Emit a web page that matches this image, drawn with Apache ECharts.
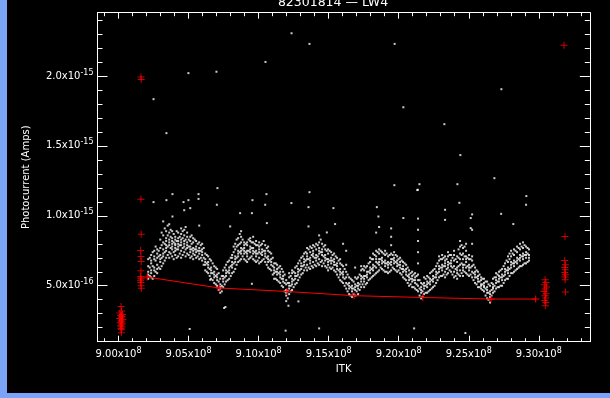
<!DOCTYPE html>
<html>
<head>
<meta charset="utf-8">
<script src="https://cdn.jsdelivr.net/npm/echarts@6/dist/echarts.min.js"></script>
<style>
    html, body { margin: 0; padding: 0; width: 610px; height: 398px; background: #7ba3f7; overflow: hidden; }
    #chart { position: absolute; left: 7px; top: 0; width: 603px; height: 393px; background: #000; }
</style>
</head>
<body>
<div id="chart"></div>
<script>
    // ITK in units of 1e6, photocurrent in units of 1e-16 A
    const X_MIN = 898.5, X_MAX = 933.64;
    const Y_MIN = 1.0, Y_MAX = 24.52;

    // white points, one column per ITK value
    const cloudCols = [
        [902.12,[5.5,6.0,6.4,6.9,5.8]], [902.33,[5.6,6.1,6.6,7.2,5.9,6.8]], [902.55,[5.7,6.3,6.9,7.5,6.1,7.1]],
        [902.76,[5.9,6.5,7.0,7.6,6.2,7.3]], [902.98,[6.2,6.7,7.2,7.7,6.9,8.3]], [903.19,[6.6,7.1,7.6,8.1,8.6,7.3,9.6]],
        [903.40,[7.0,7.5,7.9,8.4,8.9,7.7,8.2]], [903.62,[7.0,7.4,7.9,8.3,8.8,9.4,8.1]], [903.83,[7.1,7.6,8.0,8.4,8.9,7.8,8.2]],
        [904.05,[7.2,7.7,8.0,8.3,7.5,7.9,8.5]], [904.26,[7.1,7.6,8.0,8.4,8.8,7.8,8.2]], [904.47,[7.0,7.5,7.9,8.3,8.7,9.1,8.1]],
        [904.69,[7.4,7.8,8.2,8.6,9.0,8.0,10.4]], [904.90,[7.3,7.7,8.1,8.5,8.8,7.9]], [905.12,[7.0,7.4,7.8,8.2,8.5,7.6]],
        [905.33,[6.9,7.3,7.7,8.1,8.4,7.5]], [905.54,[7.0,7.4,7.8,8.2,7.6]], [905.76,[6.9,7.3,7.7,8.1,7.5,9.3]],
        [905.97,[6.8,7.2,7.6,8.0,7.4]], [906.19,[6.1,6.5,6.9,7.3,6.7]], [906.40,[5.9,6.3,6.7,7.1,6.5]],
        [906.61,[5.5,5.9,6.3,6.8,6.1]], [906.83,[5.2,5.6,6.0,6.4,5.8]], [907.04,[5.0,5.4,5.8,6.2,5.6]],
        [907.26,[4.5,4.8,5.1,5.5,4.9]], [907.47,[4.9,5.3,5.7,6.1,5.5]], [907.68,[5.3,5.7,6.1,6.5,5.9]],
        [907.90,[5.5,5.9,6.3,6.8,6.1]], [908.11,[5.9,6.3,6.7,7.2,6.5,7.0]], [908.33,[6.2,6.7,7.1,7.6,8.0,6.9]],
        [908.54,[6.7,7.1,7.5,7.9,8.4,7.3]], [908.75,[6.9,7.3,7.7,8.1,8.5,7.5,8.9]], [908.97,[6.9,7.3,7.7,8.1,7.5,7.9]],
        [909.18,[6.7,7.1,7.5,7.9,7.3,8.1]], [909.40,[7.0,7.4,7.8,8.2,7.6,8.4]], [909.61,[6.9,7.3,7.7,8.1,8.5,7.5]],
        [909.82,[6.7,7.1,7.5,7.9,8.2,7.3]], [910.04,[6.6,7.0,7.4,7.8,8.1,7.6]], [910.25,[6.8,7.2,7.6,8.0,7.4]],
        [910.47,[6.7,7.1,7.5,7.9,7.3]], [910.68,[6.3,6.7,7.1,7.5,7.8,6.9]], [910.90,[6.1,6.5,6.9,7.3,6.7]],
        [911.11,[5.5,5.9,6.3,6.6,6.1]], [911.32,[5.4,5.8,6.2,6.5,6.0]], [911.54,[5.2,5.6,6.0,6.4,5.8]],
        [911.75,[4.9,5.3,5.7,6.0,5.5]], [911.97,[3.9,4.3,4.7,5.1,4.5,5.4]], [912.18,[4.4,4.8,5.2,5.6,5.0,5.9]],
        [912.39,[4.7,5.1,5.5,5.9,5.3,6.1]], [912.61,[5.1,5.5,5.9,6.3,5.7]], [912.82,[5.4,5.8,6.2,6.6,6.0]],
        [913.04,[5.8,6.2,6.6,7.0,6.4]], [913.25,[6.1,6.5,6.9,7.3,6.7]], [913.46,[6.1,6.5,6.9,7.3,7.7,7.1]],
        [913.68,[6.2,6.6,7.0,7.4,7.8,6.8]], [913.89,[6.3,6.7,7.1,7.5,7.9,7.3]], [914.11,[6.4,6.8,7.2,7.6,8.0,7.0]],
        [914.32,[6.5,6.9,7.3,7.7,8.1,8.6,7.5]], [914.53,[6.4,6.8,7.2,7.6,8.0,7.4]], [914.75,[6.4,6.8,7.2,7.6,7.9,7.0]],
        [914.96,[6.1,6.5,6.9,7.3,7.6,6.7]], [915.18,[6.2,6.6,7.0,7.4,6.8]], [915.39,[6.1,6.5,6.9,7.3,6.7]],
        [915.60,[5.8,6.2,6.6,7.0,6.4]], [915.82,[5.4,5.8,6.2,6.6,6.9,6.0]], [916.03,[5.2,5.6,6.0,6.4,5.8,8.0]],
        [916.25,[4.8,5.2,5.6,6.0,6.5,7.5]], [916.46,[4.4,4.8,5.2,5.6,5.0]], [916.67,[4.2,4.6,5.0,5.4,4.8]],
        [916.89,[4.3,4.7,5.1,5.6,4.9,6.3]], [917.10,[4.4,4.8,5.2,5.6,5.0]], [917.32,[4.9,5.3,5.7,6.1,5.5,6.4]],
        [917.53,[4.9,5.3,5.7,6.1,6.4,5.5]], [917.74,[5.2,5.6,6.0,6.4,5.8]], [917.96,[5.5,5.9,6.3,6.7,7.0,6.1]],
        [918.17,[5.7,6.1,6.5,6.9,7.3,6.3]], [918.39,[5.9,6.3,6.7,7.1,7.5,6.9,8.8]], [918.60,[6.1,6.5,6.9,7.3,7.6,6.7,9.2]],
        [918.81,[6.2,6.6,7.0,7.4,6.8]], [919.03,[6.0,6.4,6.8,7.2,7.5,6.6]], [919.24,[5.9,6.3,6.7,7.1,6.5]],
        [919.46,[6.1,6.5,6.9,7.3,7.9,8.5,9.1,6.7]], [919.67,[6.2,6.6,7.0,7.4,6.8]], [919.89,[6.0,6.4,6.8,7.1,6.6]],
        [920.10,[5.9,6.3,6.7,7.0,6.5]], [920.31,[5.6,6.0,6.4,6.7,6.2]], [920.53,[5.4,5.8,6.2,6.5,6.0]],
        [920.74,[5.0,5.4,5.8,6.1,5.6]], [920.96,[4.9,5.3,5.7,6.0,5.5]], [921.17,[4.8,5.2,5.6,5.9,5.4]],
        [921.38,[4.6,5.0,5.4,5.8,6.6,7.4,8.2,9.0,9.8]], [921.60,[4.1,4.5,4.9,5.2,4.7]], [921.81,[4.4,4.8,5.2,5.6,5.0]],
        [922.03,[4.5,4.9,5.3,5.7,5.1]], [922.24,[4.7,5.1,5.5,5.9,5.3]], [922.45,[4.9,5.3,5.7,6.1,5.5]],
        [922.67,[5.2,5.6,6.0,6.4,5.8]], [922.88,[5.6,6.0,6.4,6.8,7.1,6.2]], [923.10,[5.7,6.1,6.5,6.9,7.2,6.3]],
        [923.31,[5.6,6.0,6.4,6.8,7.1,6.6]], [923.52,[5.9,6.3,6.7,7.1,7.4,6.5]], [923.74,[6.0,6.4,6.8,7.2,6.6]],
        [923.95,[5.6,6.0,6.4,6.8,7.2,7.5]], [924.17,[5.5,5.9,6.3,6.7,7.1,6.1]], [924.38,[5.7,6.1,6.5,6.9,7.3,7.8,8.2]],
        [924.59,[5.7,6.1,6.5,6.9,7.3,7.7,6.3]], [924.81,[5.9,6.3,6.7,7.1,7.5,8.0,6.9]], [925.02,[5.7,6.1,6.5,6.9,7.2,6.3]],
        [925.24,[5.6,6.0,6.4,6.8,7.1,8.0,9.0,10.1]], [925.45,[5.2,5.6,6.0,6.3,5.8]], [925.66,[4.9,5.3,5.7,6.0,5.5]],
        [925.88,[4.8,5.1,5.4,5.6,5.0]], [926.09,[4.6,4.9,5.2,5.5,5.0]], [926.31,[4.1,4.5,4.9,5.3,4.7]],
        [926.52,[3.8,4.2,4.6,5.0,4.4]], [926.73,[4.5,4.8,5.1,5.5,4.9]], [926.95,[4.8,5.2,5.6,5.9,5.4]],
        [927.16,[4.9,5.3,5.7,6.0,5.5]], [927.38,[5.0,5.4,5.8,6.2,5.6]], [927.59,[5.4,5.8,6.2,6.6,6.0]],
        [927.80,[5.5,5.9,6.3,6.7,7.1,6.1]], [928.02,[5.9,6.3,6.7,7.1,7.5,6.5]], [928.23,[6.0,6.4,6.8,7.2,7.6,6.6]],
        [928.45,[6.2,6.6,7.0,7.4,7.8,6.8]], [928.66,[6.4,6.8,7.2,7.6,8.0,7.0]], [928.87,[6.5,6.9,7.3,7.7,8.1,7.1]],
        [929.09,[6.6,7.0,7.4,7.8,7.2]], [929.30,[6.8,7.2,7.6,7.0]]
    ];

    // more white points, read between the columns above
    const cloudColsMid = [
        [902.23,[5.7,6.3,7.0]], [902.44,[5.5,6.4,7.4]], [902.65,[6.0,6.8,7.8]], [902.87,[6.3,7.1,7.5]],
        [903.08,[6.4,7.0,7.9,8.8]], [903.30,[6.8,7.4,8.0,9.1]], [903.51,[7.2,7.8,8.6,9.3]], [903.72,[7.3,7.7,8.5,9.0]],
        [903.94,[6.9,7.4,8.1,8.7]], [904.15,[7.0,7.6,8.2,8.9]], [904.37,[7.3,7.9,8.5]], [904.58,[7.2,7.7,8.4,8.9]],
        [904.79,[7.1,7.6,8.3,9.2]], [905.01,[7.2,7.8,8.3]], [905.22,[7.1,7.6,8.0,8.6]], [905.44,[7.2,7.6,8.3]],
        [905.65,[7.1,7.5,8.0]], [905.87,[7.0,7.5,7.9]], [906.08,[6.5,7.0,7.7]], [906.30,[6.0,6.6,7.2]],
        [906.51,[5.7,6.2,6.9]], [906.72,[5.4,5.9,6.6]], [906.94,[5.1,5.7,6.3]], [907.15,[4.7,5.3,5.9]],
        [907.37,[4.6,5.0,5.7]], [907.58,[5.1,5.6,6.3]], [907.79,[5.4,6.0,6.7]], [908.01,[5.7,6.4,7.0]],
        [908.22,[6.0,6.6,7.4,7.8]], [908.43,[6.5,7.0,7.8,8.3]], [908.65,[6.8,7.4,8.0,8.7]], [908.86,[7.1,7.6,8.3]],
        [909.08,[6.8,7.4,8.0]], [909.29,[6.9,7.5,8.3]], [909.50,[7.1,7.7,8.1]], [909.72,[6.8,7.4,8.0]],
        [909.93,[6.8,7.3,7.9]], [910.15,[6.7,7.3,7.9]], [910.36,[6.9,7.5,8.2]], [910.58,[6.5,7.0,7.7]],
        [910.79,[6.2,6.8,7.4]], [911.01,[5.8,6.4,7.0]], [911.22,[5.5,6.0,6.6]], [911.43,[5.3,5.9,6.3]],
        [911.65,[5.0,5.5,6.2]], [911.86,[4.6,5.2,5.8]], [912.08,[4.1,4.6,5.2]], [912.29,[4.6,5.0,5.7]],
        [912.50,[4.9,5.4,6.0]], [912.72,[5.2,5.7,6.4]], [912.93,[5.6,6.1,6.8]], [913.15,[5.9,6.4,7.1]],
        [913.36,[6.3,6.8,7.4]], [913.57,[6.3,6.9,7.6]], [913.79,[6.4,7.2,7.7]], [914.00,[6.5,7.0,7.8]],
        [914.22,[6.6,7.1,7.9]], [914.43,[6.7,7.4,8.3]], [914.64,[6.6,7.1,7.8]], [914.86,[6.3,6.9,7.5]],
        [915.07,[6.3,6.8,7.5]], [915.28,[6.3,6.8,7.2]], [915.50,[6.0,6.5,7.1]], [915.71,[5.6,6.1,6.8]],
        [915.93,[5.3,5.9,6.5]], [916.14,[5.0,5.5,6.2]], [916.35,[4.6,5.1,5.8]], [916.57,[4.3,4.9,5.5]],
        [916.78,[4.4,4.8,5.3]], [917.00,[4.6,5.0,5.5]], [917.21,[4.7,5.1,5.8]], [917.42,[5.1,5.6,6.2]],
        [917.64,[5.1,5.7,6.3]], [917.85,[5.4,6.0,6.6]], [918.07,[5.6,6.2,6.9]], [918.28,[5.8,6.4,7.2]],
        [918.49,[6.0,6.6,7.4]], [918.71,[6.3,6.9,7.5]], [918.92,[6.1,6.7,7.3]], [919.14,[6.0,6.6,7.3]],
        [919.35,[6.0,6.6,7.2]], [919.57,[6.3,6.9,7.2]], [919.78,[6.1,6.7,7.2]], [919.99,[6.1,6.5,6.9]],
        [920.21,[5.8,6.2,6.8]], [920.42,[5.5,6.1,6.6]], [920.64,[5.2,5.7,6.3]], [920.85,[5.1,5.5,5.9]],
        [921.06,[4.9,5.4,5.8]], [921.28,[4.7,5.1,5.7]], [921.49,[4.3,4.8,5.4]], [921.70,[4.2,4.6,5.1]],
        [921.92,[4.5,5.0,5.5]], [922.13,[4.6,5.2,5.6]], [922.35,[4.8,5.4,6.0]], [922.56,[5.0,5.6,6.2]],
        [922.77,[5.4,5.9,6.6]], [922.99,[5.7,6.3,6.9]], [923.20,[5.8,6.4,7.0]], [923.42,[5.8,6.2,6.9]],
        [923.63,[6.1,6.6,7.2]], [923.84,[5.8,6.3,7.0]], [924.06,[5.7,6.2,6.9]], [924.27,[5.8,6.4,7.0,7.6]],
        [924.49,[5.9,6.6,7.2,7.9]], [924.70,[6.0,6.5,7.1,7.8]], [924.91,[5.8,6.4,7.0]], [925.13,[5.8,6.3,6.9]],
        [925.34,[5.4,5.9,6.5]], [925.56,[5.1,5.6,6.1]], [925.77,[4.9,5.3,5.8]], [925.98,[4.7,5.1,5.5]],
        [926.20,[4.3,4.8,5.3]], [926.41,[4.0,4.5,5.1]], [926.63,[4.3,4.7,5.2]], [926.84,[4.6,5.0,5.6]],
        [927.06,[4.9,5.3,5.8]], [927.27,[5.0,5.6,6.1]], [927.49,[5.2,5.7,6.4]], [927.70,[5.5,6.1,6.8]],
        [927.91,[5.7,6.2,6.9,7.3]], [928.13,[5.9,6.6,7.3]], [928.34,[6.1,6.7,7.5]], [928.56,[6.3,6.9,7.7]],
        [928.77,[6.4,7.1,7.8]], [928.98,[6.6,7.2,7.9]], [929.20,[6.7,7.3,7.7]]
    ];

    // scattered white points away from the main band
    const strayPoints = [
        [902.50,18.34],[903.42,15.91],[920.33,17.76],[927.33,19.05],[923.26,16.55],[924.40,14.34],
        [926.83,12.69],[924.19,12.26],[921.48,12.26],[921.33,11.84],[919.69,12.19],[913.63,11.69],
        [910.56,11.55],[909.56,11.12],[912.34,10.91],[907.06,11.98],[905.71,11.55],[905.71,11.21],
        [903.85,11.55],[902.50,10.98],[903.42,11.12],[904.64,10.98],[904.99,11.12],[929.11,11.41],
        [912.35,23.05],[913.63,22.29],[919.71,22.29],[910.49,21.0],[904.99,20.2],[906.99,20.3],
        [905.08,1.91],[911.93,1.79],[914.32,1.95],[921.10,1.95],[924.76,1.62],[909.52,5.14],
        [907.63,3.48],[912.13,3.57],[912.84,3.88],[907.54,3.41],
        [909.52,10.19],[910.47,10.79],[910.59,9.48],[913.56,10.62],[915.34,10.55],[915.46,9.41],
        [914.87,8.81],[913.56,9.24],[918.44,10.62],[918.55,9.95],[920.33,9.84],[921.36,11.86],
        [923.31,10.43],[923.31,9.71],[924.33,10.93],[929.09,10.79],[927.31,10.14],[928.18,9.41],
        [925.14,9.84],[925.14,9.12],[907.02,10.79],[908.68,10.19],[907.97,9.24],[903.85,9.95],
        [905.12,10.55],[906.54,5.43]
    ];

    // red crosses
    const redStart = [
        [900.18,3.52],[900.22,3.20],[900.10,3.05],[900.28,2.95],[900.15,2.88],[900.25,2.80],[900.20,2.72],
        [900.08,2.65],[900.30,2.58],[900.18,2.50],[900.24,2.42],[900.12,2.35],[900.27,2.28],[900.20,2.20],
        [900.15,2.12],[900.25,2.05],[900.18,1.95],[900.22,1.85],[900.20,1.64]
    ];
    const redSecond = [
        [901.60,19.93],[901.62,19.74],[901.60,11.19],[901.62,8.69],[901.58,7.52],[901.60,7.09],[901.62,6.74],
        [901.60,6.07],[901.58,5.66],[901.62,5.48],[901.60,5.24],[901.60,5.0],[901.63,4.83],[901.57,5.35],[901.60,5.55]
    ];
    const redEnd = [
        [930.45,5.43],[930.50,5.24],[930.40,5.07],[930.55,4.91],[930.45,4.76],[930.38,4.59],[930.52,4.43],
        [930.45,4.29],[930.48,4.12],[930.42,3.95],[930.50,3.81],[930.46,3.57]
    ];
    const redLast = [
        [931.80,22.2],[931.87,8.52],[931.85,6.81],[931.90,6.50],[931.86,6.31],[931.88,6.14],[931.85,5.95],
        [931.90,5.79],[931.87,5.62],[931.88,5.43],[931.90,4.55]
    ];
    const redLine = [
        [902.05,5.62],[907.18,4.84],[912.02,4.59],[916.81,4.29],[921.72,4.16],[926.59,4.05],[929.78,4.05]
    ];

    const cloudPoints = [];
    cloudCols.concat(cloudColsMid).forEach(([x, ys]) => ys.forEach(y => cloudPoints.push([x, y])));

    const PLUS = 'path://M3,0H4V3H7V4H4V7H3V4H0V3H3Z';
    const FONT = 'DejaVu Sans';
    const rich = {
        b: { color: '#fff', fontFamily: FONT, fontSize: 10 },
        s: { color: '#fff', fontFamily: FONT, fontSize: 8, padding: [0, 0, 7, 0] }
    };
    const tickStyle = { color: '#fff', width: 1 };

    const chart = echarts.init(document.getElementById('chart'));
    const option = {
        backgroundColor: '#000',
        animation: false,
        grid: { left: 90.5, right: 20.2, top: 12.7, bottom: 51.3 },
        graphic: [{
            type: 'text', x: 326, y: 3,
            style: { text: '82301814 — LW4', fill: '#fff', font: '12.5px "DejaVu Sans"', align: 'center', verticalAlign: 'middle' }
        }],
        xAxis: [
            {
                type: 'value', min: X_MIN, max: X_MAX, splitNumber: 7, position: 'bottom',
                axisLine: { onZero: false, lineStyle: tickStyle },
                axisTick: { inside: true, length: 6, lineStyle: tickStyle },
                minorTick: { show: true, splitNumber: 5, length: 3.5, lineStyle: tickStyle },
                splitLine: { show: false },
                axisLabel: {
                    showMinLabel: false, showMaxLabel: false, margin: 5, rich: rich,
                    formatter: v => '{b|' + (v / 100).toFixed(2) + 'x10}{s|8}'
                },
                name: 'ITK', nameLocation: 'middle', nameGap: 20,
                nameTextStyle: { color: '#fff', fontFamily: FONT, fontSize: 10 }
            },
            {
                type: 'value', min: X_MIN, max: X_MAX, splitNumber: 7, position: 'top',
                axisLine: { onZero: false, lineStyle: tickStyle },
                axisTick: { inside: true, length: 6, lineStyle: tickStyle },
                minorTick: { show: true, splitNumber: 5, length: 3.5, lineStyle: tickStyle },
                splitLine: { show: false },
                axisLabel: { show: false }
            }
        ],
        yAxis: [
            {
                type: 'value', min: Y_MIN, max: Y_MAX, splitNumber: 5, position: 'left',
                axisLine: { onZero: false, lineStyle: tickStyle },
                axisTick: { inside: true, length: 10, lineStyle: tickStyle },
                minorTick: { show: true, splitNumber: 5, length: 5, lineStyle: tickStyle },
                splitLine: { show: false },
                axisLabel: {
                    showMinLabel: false, showMaxLabel: false, margin: 4, rich: rich,
                    formatter: v => v < 10 ? '{b|' + v.toFixed(1) + 'x10}{s|-16}' : '{b|' + (v / 10).toFixed(1) + 'x10}{s|-15}'
                },
                name: 'Photocurrent (Amps)', nameLocation: 'middle', nameGap: 66,
                nameTextStyle: { color: '#fff', fontFamily: FONT, fontSize: 10 }
            },
            {
                type: 'value', min: Y_MIN, max: Y_MAX, splitNumber: 5, position: 'right',
                axisLine: { onZero: false, lineStyle: tickStyle },
                axisTick: { inside: true, length: 10, lineStyle: tickStyle },
                minorTick: { show: true, splitNumber: 5, length: 5, lineStyle: tickStyle },
                splitLine: { show: false },
                axisLabel: { show: false }
            }
        ],
        series: [
            { type: 'scatter', data: cloudPoints, symbol: 'rect', symbolSize: 2, itemStyle: { color: '#fff' }, silent: true },
            { type: 'scatter', data: strayPoints, symbol: 'rect', symbolSize: 2, itemStyle: { color: '#fff' }, silent: true },
            {
                type: 'line', data: redLine, symbol: PLUS, symbolSize: 7, showAllSymbol: true, z: 5,
                lineStyle: { color: '#ff0000', width: 1 }, itemStyle: { color: '#ff0000' }
            },
            { type: 'scatter', data: redStart, symbol: PLUS, symbolSize: 7, itemStyle: { color: '#ff0000' }, z: 5 },
            { type: 'scatter', data: redSecond, symbol: PLUS, symbolSize: 7, itemStyle: { color: '#ff0000' }, z: 5 },
            { type: 'scatter', data: redEnd, symbol: PLUS, symbolSize: 7, itemStyle: { color: '#ff0000' }, z: 5 },
            { type: 'scatter', data: redLast, symbol: PLUS, symbolSize: 7, itemStyle: { color: '#ff0000' }, z: 5 }
        ]
    };
    chart.setOption(option);
</script>
</body>
</html>
